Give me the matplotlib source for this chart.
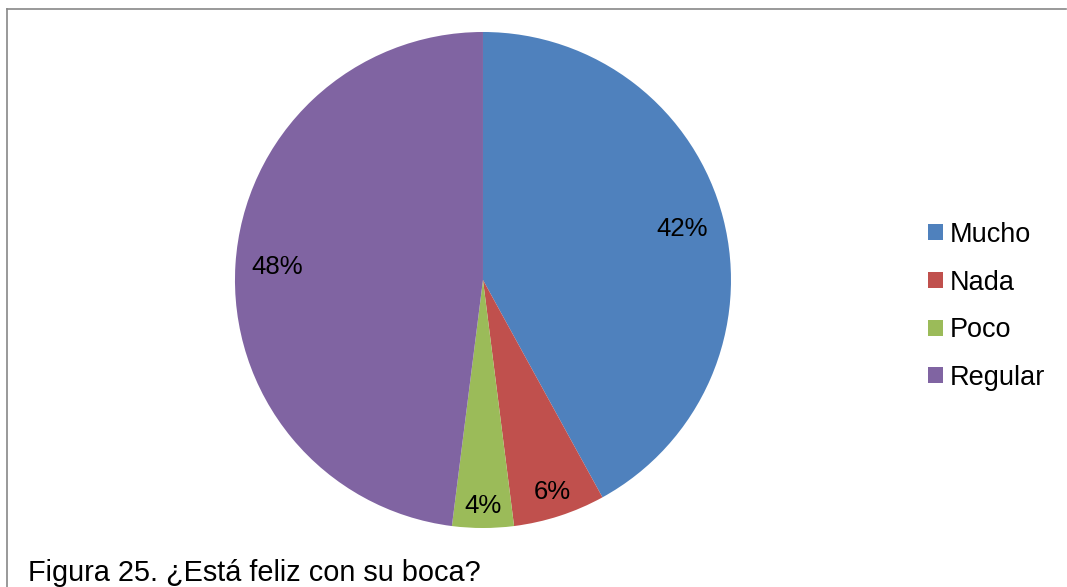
import numpy as np
import matplotlib
matplotlib.use("Agg")
import matplotlib.pyplot as plt
from matplotlib.lines import Line2D
from matplotlib.patches import Patch

plt.rcParams['font.family'] = ['Liberation Sans', 'DejaVu Sans']

# respuestas a la pregunta de la figura 25
categorias = ['Mucho', 'Nada', 'Poco', 'Regular']
porcentajes = [42, 6, 4, 48]
colores = ['#4F81BD', '#C0504D', '#9BBB59', '#8064A2']
# distancia de cada etiqueta al centro (fraccion del radio)
dist_etiqueta = [0.83, 0.90, 0.91, 0.83]

fig = plt.figure(figsize=(10.67, 5.87), dpi=100)
ax = fig.add_axes([0.2202, 0.1005, 0.4649, 0.845])

wedges, _ = ax.pie(porcentajes, colors=colores, startangle=90,
                   counterclock=False, radius=1.0,
                   wedgeprops=dict(linewidth=0))
ax.set_xlim(-1, 1)
ax.set_ylim(-1, 1)
ax.set_aspect('equal')
ax.axis('off')

# etiquetas de porcentaje en el angulo medio de cada sector
for w, p, d in zip(wedges, porcentajes, dist_etiqueta):
    ang = np.deg2rad((w.theta1 + w.theta2) / 2)
    ax.text(d * np.cos(ang), d * np.sin(ang), f'{p}%',
            ha='center', va='center', fontsize=18.5, color='black')

handles = [Patch(facecolor=c, edgecolor='none') for c in colores]
fig.legend(handles, categorias, loc='center left',
           bbox_to_anchor=(0.857, 0.478), frameon=False, fontsize=19.5,
           handlelength=0.55, handleheight=0.55, handletextpad=0.25,
           labelspacing=0.8, borderpad=0)

# marco superior e izquierdo
fig.add_artist(Line2D([0.007, 0.999], [0.984, 0.984], color='#888888',
                      linewidth=1.2, transform=fig.transFigure))
fig.add_artist(Line2D([0.007, 0.007], [0.0, 0.984], color='#888888',
                      linewidth=1.2, transform=fig.transFigure))

fig.text(0.026, 0.0102, 'Figura 25. ¿Está feliz con su boca?',
         fontsize=20.8, ha='left', va='baseline')

fig.savefig('out.png', dpi=100)
